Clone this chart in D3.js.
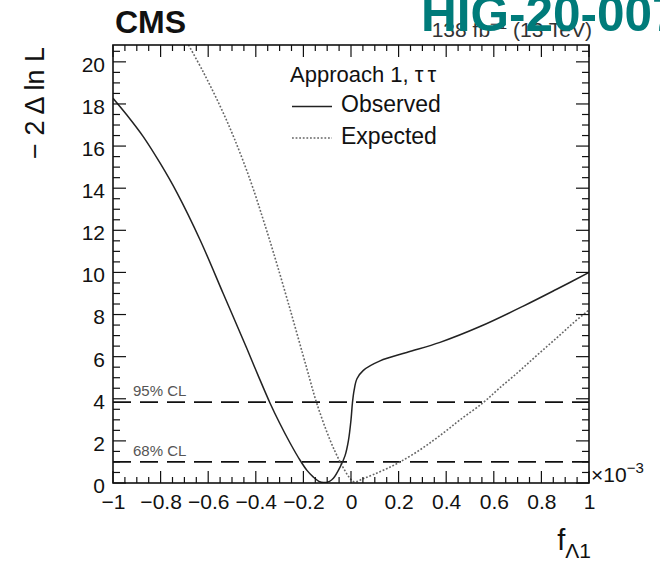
<!DOCTYPE html>
<html>
<head>
<meta charset="utf-8">
<script src="https://cdn.jsdelivr.net/npm/d3@7/dist/d3.min.js"></script>
<style>
  html, body { margin: 0; padding: 0; background: #fff; }
  svg { display: block; font-family: "Liberation Sans", Arial, Helvetica, sans-serif; }
</style>
</head>
<body>
<svg id="chart" width="660" height="564"></svg>
<script>
// Likelihood scan of f_Λ1 (units of 1e-3)
const observedF = [-1, -0.94, -0.873, -0.8, -0.732, -0.634, -0.537, -0.438, -0.39, -0.34, -0.3, -0.256, -0.214, -0.185, -0.158, -0.135, -0.116, -0.09, -0.074, -0.046, -0.025, -0.011, 0.0, 0.006, 0.013, 0.025, 0.052, 0.122, 0.234, 0.374, 0.542, 0.724, 0.864, 1.0];
const observedNLL = [18.27, 17.45, 16.45, 15.15, 13.8, 11.54, 9.0, 6.4, 5.1, 3.79, 2.85, 1.9, 1.08, 0.6, 0.28, 0.08, 0.02, 0.08, 0.22, 0.75, 1.3, 2.0, 3.0, 3.8, 4.4, 4.95, 5.35, 5.8, 6.2, 6.68, 7.43, 8.4, 9.2, 10.0];

const expectedF = [-0.69, -0.62, -0.55, -0.49, -0.424, -0.37, -0.326, -0.256, -0.186, -0.144, -0.088, -0.046, -0.004, 0.015, 0.05, 0.094, 0.15, 0.206, 0.28, 0.346, 0.4, 0.458, 0.556, 0.62, 0.696, 0.76, 0.822, 0.88, 0.934, 1.0];
const expectedNLL = [20.95, 19.5, 17.9, 16.35, 14.4, 12.55, 10.95, 8.25, 5.45, 3.79, 2.04, 1.01, 0.22, 0.05, 0.2, 0.4, 0.68, 1.0, 1.5, 2.02, 2.48, 3.0, 3.82, 4.47, 5.2, 5.85, 6.47, 7.05, 7.6, 8.22];

const clLevels = [3.84, 1.0];
const clLabels = ["95% CL", "68% CL"];

const xTickValues = [-1, -0.8, -0.6, -0.4, -0.2, 0, 0.2, 0.4, 0.6, 0.8, 1];
const yTickValues = [0, 2, 4, 6, 8, 10, 12, 14, 16, 18, 20];

const svg = d3.select("#chart");
const L = 113, R = 589, T = 45, B = 483;

const x = d3.scaleLinear().domain([-1, 1]).range([L, R]);
const y = d3.scaleLinear().domain([0, 20.8]).range([B, T]);

const fmt = v => (v < 0 ? "\u2212" : "") + Math.abs(v).toString();

// clip region for the curves
svg.append("defs").append("clipPath").attr("id", "plotClip")
  .append("rect").attr("x", L).attr("y", T).attr("width", R - L).attr("height", B - T);

// confidence-level reference lines
const clG = svg.append("g");
clLevels.forEach((lvl, i) => {
  clG.append("line")
    .attr("x1", L).attr("x2", R)
    .attr("y1", y(lvl)).attr("y2", y(lvl))
    .attr("stroke", "#111").attr("stroke-width", 1.8)
    .attr("stroke-dasharray", "18,9");
  clG.append("text")
    .attr("x", L + 20).attr("y", y(lvl) - 6)
    .attr("font-size", 15).attr("fill", "#555")
    .text(clLabels[i]);
});

// curves
const line = d3.line().x(d => x(d[0])).y(d => y(d[1])).curve(d3.curveCatmullRom.alpha(0.5));
const obs = observedF.map((f, i) => [f, observedNLL[i]]);
const exp = expectedF.map((f, i) => [f, expectedNLL[i]]);

const curves = svg.append("g").attr("clip-path", "url(#plotClip)");
curves.append("path").datum(exp)
  .attr("d", line).attr("fill", "none")
  .attr("stroke", "#666").attr("stroke-width", 1.6)
  .attr("stroke-dasharray", "1.8,1.8");
curves.append("path").datum(obs)
  .attr("d", line).attr("fill", "none")
  .attr("stroke", "#222").attr("stroke-width", 1.5);

// axes: ticks pointing inward on all four sides
const xMajor = 12, xMinor = 6, yMajor = 13, yMinor = 7;
const xMinorVals = d3.range(-1, 1.0001, 0.05).map(v => +v.toFixed(3));
const yMinorVals = d3.range(0, 20.8001, 0.5).map(v => +v.toFixed(3));

const axG = svg.append("g").attr("stroke", "#111").attr("stroke-width", 1.2);
xMinorVals.forEach(v => {
  const major = xTickValues.some(t => Math.abs(t - v) < 1e-6);
  const len = major ? xMajor : xMinor;
  axG.append("line").attr("x1", x(v)).attr("x2", x(v)).attr("y1", B).attr("y2", B - len);
  axG.append("line").attr("x1", x(v)).attr("x2", x(v)).attr("y1", T).attr("y2", T + len);
});
yMinorVals.forEach(v => {
  const major = yTickValues.some(t => Math.abs(t - v) < 1e-6);
  const len = major ? yMajor : yMinor;
  axG.append("line").attr("y1", y(v)).attr("y2", y(v)).attr("x1", L).attr("x2", L + len);
  axG.append("line").attr("y1", y(v)).attr("y2", y(v)).attr("x1", R).attr("x2", R - len);
});
svg.append("rect").attr("x", L).attr("y", T).attr("width", R - L).attr("height", B - T)
  .attr("fill", "none").attr("stroke", "#111").attr("stroke-width", 1.6);

// tick labels
const xAxis = d3.axisBottom(x).tickValues(xTickValues).tickSize(0).tickPadding(0).tickFormat(fmt);
const gx = svg.append("g").attr("transform", `translate(0,${B})`).call(xAxis);
gx.select(".domain").remove();
gx.selectAll("text").attr("font-size", 21).attr("fill", "#111")
  .attr("font-family", "Liberation Sans, Arial, sans-serif")
  .attr("dy", null).attr("y", 26);

const yAxis = d3.axisLeft(y).tickValues(yTickValues).tickSize(0).tickPadding(8).tickFormat(fmt);
const gy = svg.append("g").attr("transform", `translate(${L},0)`).call(yAxis);
gy.select(".domain").remove();
gy.selectAll("text").attr("font-size", 21).attr("fill", "#111")
  .attr("font-family", "Liberation Sans, Arial, sans-serif")
  .attr("dy", "0.45em");

// exponent marker
const expo = svg.append("text").attr("x", R + 2).attr("y", 482).attr("font-size", 21).attr("fill", "#111");
expo.append("tspan").text("\u00d710");
expo.append("tspan").attr("font-size", 15).attr("dy", -9).text("\u22123");

// axis titles
svg.append("text")
  .attr("transform", "translate(44,47) rotate(-90)")
  .attr("text-anchor", "end").attr("font-size", 27).attr("fill", "#111")
  .text("\u2212 2 \u0394 ln L");

const xt = svg.append("text").attr("x", 591).attr("y", 550).attr("text-anchor", "end")
  .attr("font-size", 29).attr("fill", "#111");
xt.append("tspan").text("f");
xt.append("tspan").attr("font-size", 21).attr("dy", 8).text("\u039b1");

// legend
const lg = svg.append("g");
const head = lg.append("text").attr("x", 290).attr("y", 82).attr("font-size", 22).attr("fill", "#111");
head.append("tspan").text("Approach 1, ");
head.append("tspan").attr("letter-spacing", 4).text("\u03c4\u03c4");
lg.append("line").attr("x1", 292).attr("x2", 332).attr("y1", 106.5).attr("y2", 106.5)
  .attr("stroke", "#222").attr("stroke-width", 1.5);
lg.append("text").attr("x", 341).attr("y", 112).attr("font-size", 23).attr("fill", "#111").text("Observed");
lg.append("line").attr("x1", 292).attr("x2", 332).attr("y1", 138).attr("y2", 138)
  .attr("stroke", "#666").attr("stroke-width", 1.6).attr("stroke-dasharray", "1.8,1.8");
lg.append("text").attr("x", 341).attr("y", 143.5).attr("font-size", 23).attr("fill", "#111").text("Expected");

// header
svg.append("text").attr("x", 115).attr("y", 33).attr("font-size", 32).attr("font-weight", "bold")
  .attr("fill", "#111").text("CMS");
const lumi = svg.append("text").attr("x", 592).attr("y", 37).attr("text-anchor", "end")
  .attr("font-size", 21).attr("fill", "#333");
lumi.append("tspan").text("138 fb");
lumi.append("tspan").attr("font-size", 15).attr("dy", -8).text("\u22121");
lumi.append("tspan").attr("dy", 8).text(" (13 TeV)");

svg.append("text").attr("x", 421).attr("y", 31).attr("font-size", 49.5).attr("font-weight", "bold")
  .attr("fill", "#007b7a").text("HIG-20-007");
</script>
</body>
</html>
